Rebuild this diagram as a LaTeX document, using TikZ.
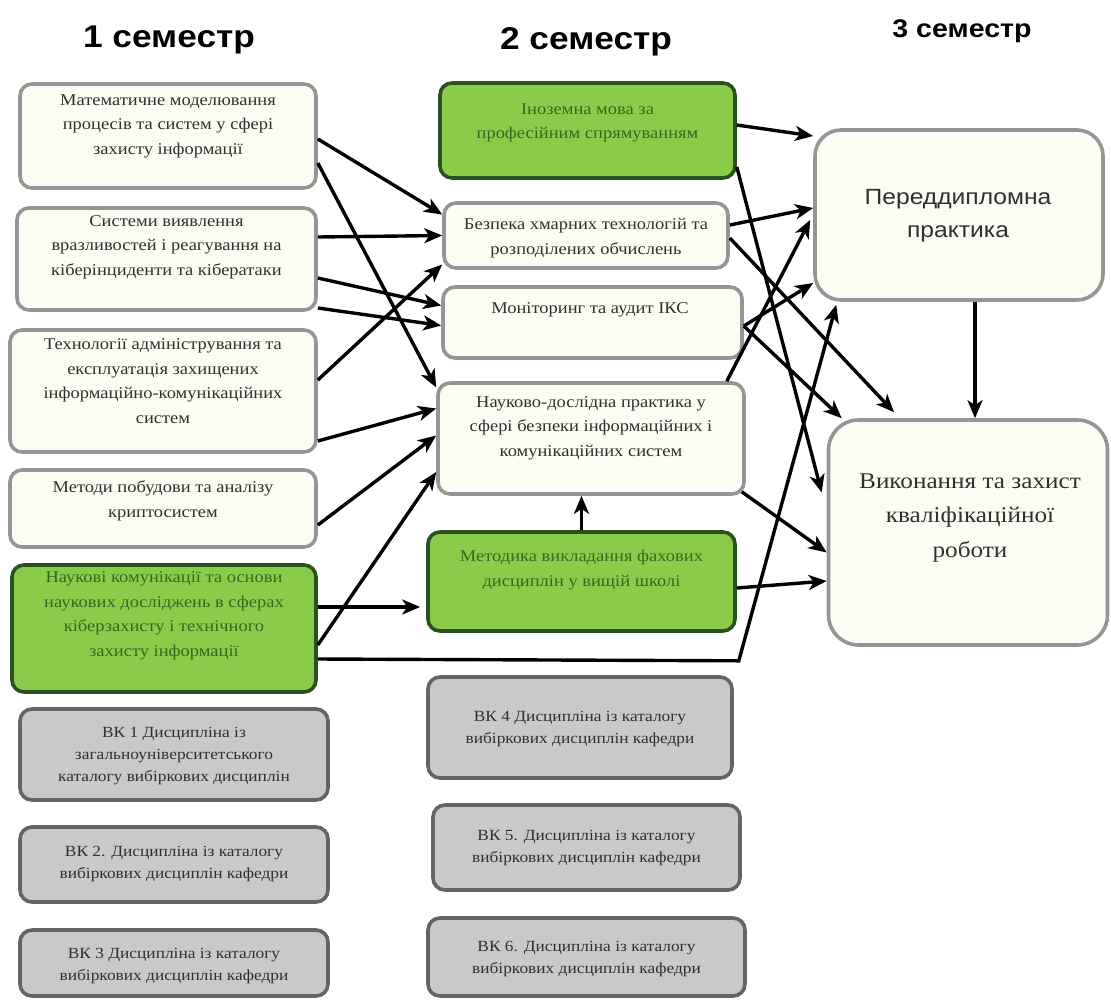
\documentclass[tikz,border=0pt]{standalone}
\usepackage{fontspec}
\setmainfont{Liberation Serif}[FakeStretch=1.12]
\newfontfamily\arialf{Liberation Sans}[FakeStretch=1.12]
\usetikzlibrary{arrows.meta,calc}
\definecolor{wfill}{HTML}{FBFCF2}
\definecolor{wline}{HTML}{959595}
\definecolor{gfill}{HTML}{8CCB4A}
\definecolor{gline}{HTML}{2A5220}
\definecolor{gtext}{HTML}{2E6B1F}
\definecolor{sfill}{HTML}{C9C9C9}
\definecolor{sline}{HTML}{646464}
\definecolor{dtext}{HTML}{303030}
\tikzset{
  box/.style={rectangle, rounded corners=12pt, line width=3.6pt, inner sep=0pt},
  wbox/.style={box, draw=wline, fill=wfill},
  gbox/.style={box, draw=gline, fill=gfill},
  sbox/.style={box, draw=sline, fill=sfill},
  txt/.style={align=center, inner sep=0pt, text=dtext, font=\fontsize{16.5}{24.5}\selectfont},
  gtxt/.style={txt, text=gtext},
  stxt/.style={txt, font=\fontsize{15.5}{22}\selectfont},
  ttl/.style={inner sep=0pt, text=black, font=\arialf\bfseries\fontsize{31.5}{34}\selectfont},
  arr/.style={line width=3.4pt, -{Stealth[length=18pt,width=15pt,inset=5pt]}},
}
\begin{document}
\begin{tikzpicture}[x=1pt,y=-1pt]
\useasboundingbox (0,0) rectangle (1111,999);
% titles
\node[ttl] (t1) at (169,40) {1 семестр};
\node[ttl] (t2) at (586,42) {2 семестр};
\node[ttl, font=\arialf\bfseries\fontsize{25.5}{30}\selectfont] (t3) at (962,31) {3 семестр};
% left column
\node[wbox, minimum width=296pt, minimum height=104pt] (L1) at (168,136) {};
\node[txt] (L1t) at (168,126) {Математичне моделювання\\процесів та систем у сфері\\захисту інформації};
\node[wbox, minimum width=299pt, minimum height=102pt] (L2) at (166.5,259) {};
\node[txt] (L2t) at (166.5,247) {Системи виявлення\\вразливостей і реагування на\\кіберінциденти та кібератаки};
\node[wbox, minimum width=306pt, minimum height=122pt] (L3) at (163,391) {};
\node[txt] (L3t) at (163,381) {Технології адміністрування та\\експлуатація захищених\\інформаційно-комунікаційних\\систем};
\node[wbox, minimum width=306pt, minimum height=77pt] (L4) at (163,508.5) {};
\node[txt] (L4t) at (163,501) {Методи побудови та аналізу\\криптосистем};
\node[gbox, minimum width=304pt, minimum height=127pt] (L5) at (164,628.5) {};
\node[gtxt] (L5t) at (164,616) {Наукові комунікації та основи\\наукових досліджень в сферах\\кіберзахисту і технічного\\захисту інформації};
\node[sbox, minimum width=308pt, minimum height=91pt] (L6) at (174,754.5) {};
\node[stxt] (L6t) at (174,756) {ВК 1 Дисципліна із\\загальноуніверситетського\\каталогу вибіркових дисциплін};
\node[sbox, minimum width=308pt, minimum height=75pt] (L7) at (174,864.5) {};
\node[stxt] (L7t) at (174,864) {ВК 2. Дисципліна із каталогу\\вибіркових дисциплін кафедри};
\node[sbox, minimum width=308pt, minimum height=66pt] (L8) at (174,963) {};
\node[stxt] (L8t) at (174,966) {ВК 3 Дисципліна із каталогу\\вибіркових дисциплін кафедри};
% middle column
\node[gbox, minimum width=295pt, minimum height=95pt] (M1) at (587.5,130.5) {};
\node[gtxt] (M1t) at (587.5,123) {Іноземна мова за\\професійним спрямуванням};
\node[wbox, minimum width=284pt, minimum height=65pt] (M2) at (586,235.5) {};
\node[txt] (M2t) at (586,238) {Безпека хмарних технологій та\\розподілених обчислень};
\node[wbox, minimum width=299pt, minimum height=71pt] (M3) at (592.5,322.5) {};
\node[txt] (M3t) at (590,310) {Моніторинг та аудит ІКС};
\node[wbox, minimum width=306pt, minimum height=111pt] (M4) at (591,438.5) {};
\node[txt] (M4t) at (591,428) {Науково-дослідна практика у\\сфері безпеки інформаційних і\\комунікаційних систем};
\node[gbox, minimum width=307pt, minimum height=99pt] (M5) at (581.5,581.5) {};
\node[gtxt] (M5t) at (581.5,570) {Методика викладання фахових\\дисциплін у вищій школі};
\node[sbox, minimum width=304pt, minimum height=101pt] (M6) at (580,727.5) {};
\node[stxt] (M6t) at (580,729) {ВК 4 Дисципліна із каталогу\\вибіркових дисциплін кафедри};
\node[sbox, minimum width=307pt, minimum height=85pt] (M7) at (586.5,847.5) {};
\node[stxt] (M7t) at (586.5,848) {ВК 5. Дисципліна із каталогу\\вибіркових дисциплін кафедри};
\node[sbox, minimum width=317pt, minimum height=78pt] (M8) at (586.5,957) {};
\node[stxt] (M8t) at (586.5,959) {ВК 6. Дисципліна із каталогу\\вибіркових дисциплін кафедри};
% right column
\node[wbox, rounded corners=26pt, minimum width=288pt, minimum height=170pt] (R1) at (959,215) {};
\node[txt, font=\arialf\fontsize{22}{33}\selectfont] (R1t) at (958,216) {Переддипломна\\практика};
\node[wbox, rounded corners=30pt, minimum width=279pt, minimum height=225pt] (R2) at (968,532.5) {};
\node[txt, font=\fontsize{22.5}{34.5}\selectfont] (R2t) at (970,518) {Виконання та захист\\кваліфікаційної\\роботи};
% connectors: column 1 -> column 2
\draw[arr] ([yshift=-3pt]L1.east) -- ([yshift=21pt]M2.west);
\draw[arr] ([yshift=-27pt]L1.east) -- ([yshift=51pt]M4.west);
\draw[arr] ([yshift=22pt]L2.east) -- (M2.west);
\draw[arr] ([yshift=-19pt]L2.east) -- ([yshift=17pt]M3.west);
\draw[arr] ([yshift=-49pt]L2.east) -- ([yshift=-3pt]M3.west);
\draw[arr] ([yshift=11pt]L3.east) -- ([yshift=-29pt]M2.west);
\draw[arr] ([yshift=-50pt]L3.east) -- ([yshift=30pt]M4.west);
\draw[arr] ([yshift=-16.5pt]L4.east) -- ([yshift=3pt]M4.west);
\draw[arr] ([yshift=-16.5pt]L5.east) -- ([yshift=-33.5pt]M4.west);
\draw[arr] ([yshift=21.5pt]L5.east) -- ([xshift=-6pt,yshift=-25.5pt]M5.west);
\coordinate (k) at ($(M5.south east)+(2,28)$);
\draw[arr] ([yshift=-30.5pt]L5.east) -- (k) -- ([xshift=23pt,yshift=-3pt]R1.south west);
\draw[arr] (M5.north) -- (M5.north |- M4.south);
% column 2 -> column 3
\draw[arr] ([yshift=5.5pt]M1.east) -- ([yshift=79pt]R1.west);
\draw[arr] ([yshift=-36.5pt]M1.east) -- ([xshift=-5pt,yshift=40pt]R2.west);
\draw[arr] ([yshift=10.5pt]M2.east) -- ([yshift=7pt]R1.west);
\draw[arr] ([yshift=-2.5pt]M2.east) -- ([xshift=-74pt,yshift=6pt]R2.north);
\draw[arr] ([yshift=-3.5pt]M3.east) -- ([yshift=-68pt]R1.west);
\draw[arr] ([yshift=-3.5pt]M3.east) -- ([xshift=15pt]R2.north west);
\draw[arr] ([xshift=-19pt]M4.north east) -- ([xshift=-3pt,yshift=-5pt]R1.west);
\draw[arr] ([xshift=-4pt,yshift=4pt]M4.south east) -- ([yshift=-20pt]R2.west);
\draw[arr] ([yshift=-6.5pt]M5.east) -- ([yshift=-48.5pt]R2.west);
\draw[arr] ([xshift=16pt]R1.south) -- ([xshift=16pt]R1.south |- R2.north);
\end{tikzpicture}
\end{document}
